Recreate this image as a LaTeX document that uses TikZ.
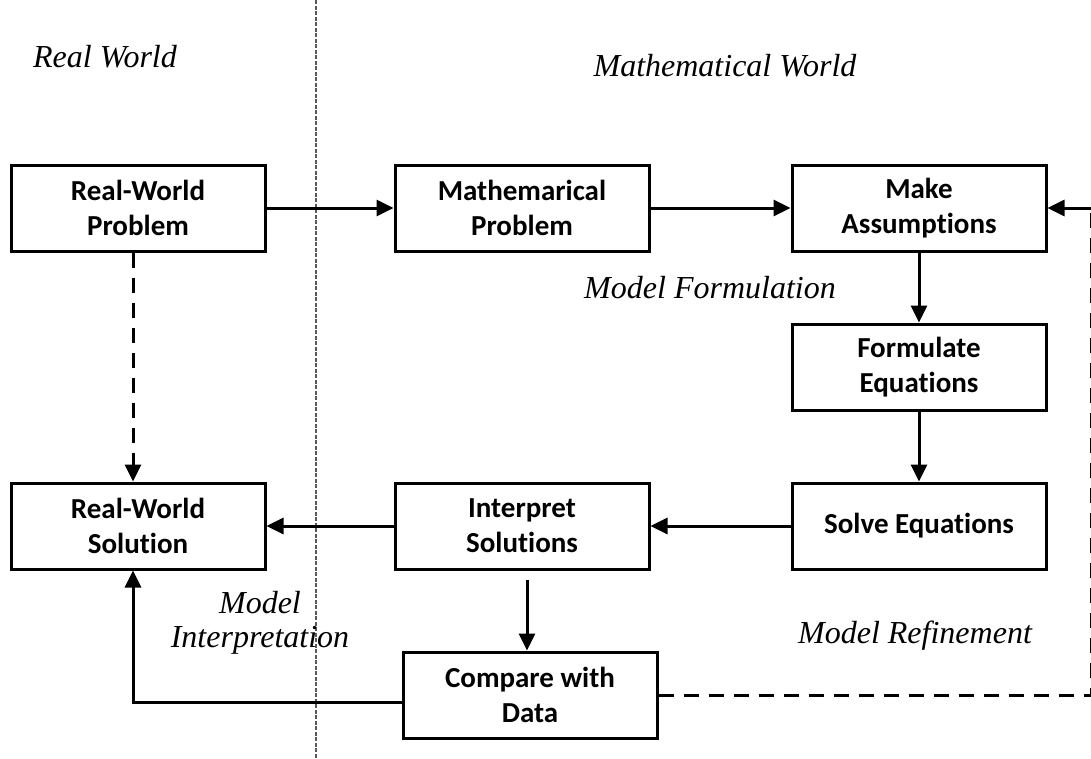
\documentclass[tikz,border=0pt]{standalone}
\usepackage{fontspec}
\setmainfont{Liberation Serif}
\newfontfamily\boxfont[Ligatures={NoCommon}]{Carlito}
\usetikzlibrary{positioning, arrows.meta}
\tikzset{
  box/.style={draw, line width=3pt, minimum height=86pt, minimum width=254pt, inner sep=0pt, align=center, font=\boxfont\bfseries\fontsize{29}{35}\selectfont},
  tag/.style={font=\itshape\fontsize{32}{34}\selectfont, align=center},
  flow/.style={->, line width=3pt},
  dashflow/.style={line width=3pt, dash pattern=on 15pt off 10pt},
  >={Triangle[length=17pt, width=16pt]},
}
\begin{document}
\begin{tikzpicture}[x=1pt, y=-1pt]
  \useasboundingbox (0,0) rectangle (1091,758);
  % world separator
  \coordinate (septop) at (316,0);
  \coordinate (sepbot) at (316,758);
  \draw[gray!70!black, line width=1.2pt, dash pattern=on 4pt off 1.5pt] (septop) -- (sepbot);

  \node[box] (rwp) at (138,208) {Real-World\\Problem};
  \node[box, right=127pt of rwp] (mp) {Mathemarical\\Problem};
  \node[box, right=140pt of mp] (ma) {Make\\Assumptions};
  \node[box, below=70pt of ma] (fe) {Formulate\\Equations};
  \node[box, below=70pt of fe] (se) {Solve Equations};
  \node[box, left=140pt of se] (is) {Interpret\\Solutions};
  \node[box, left=127pt of is] (rws) {Real-World\\Solution};
  \node[box, below=80pt of is, xshift=8pt] (cd) {Compare with\\Data};

  \node[tag] (realw) at (105,57) {Real World};
  \node[tag] (mathw) at (725,66) {Mathematical World};
  \node[tag] (form) at (710,288) {Model Formulation};
  \node[tag] (interp) at (260,623) {Model\\Interpretation};
  \node[tag] (refine) at (915,636) {Model Refinement};

  \draw[flow] (rwp) -- (mp);
  \draw[flow] (mp) -- (ma);
  \draw[flow] (ma) -- (fe);
  \draw[flow] (fe) -- (se);
  \draw[flow] (se) -- (is);
  \draw[flow] (is) -- (rws);
  \draw[flow, shorten <=9pt] ([xshift=-3pt]cd.north |- is.south) -- ([xshift=-3pt]cd.north);
  \draw[flow] ([yshift=-7pt]cd.west) -| ([xshift=-5pt]rws.south);
  \draw[dashflow, ->] ([xshift=-5pt]rwp.south) -- ([xshift=-5pt]rws.north);

  % refinement loop
  \coordinate (rtop) at (1091.8,208);
  \draw[dashflow] (cd.east) -- (cd.east -| rtop) -- (rtop);
  \draw[flow] (rtop) -- (ma.east);
\end{tikzpicture}
\end{document}
